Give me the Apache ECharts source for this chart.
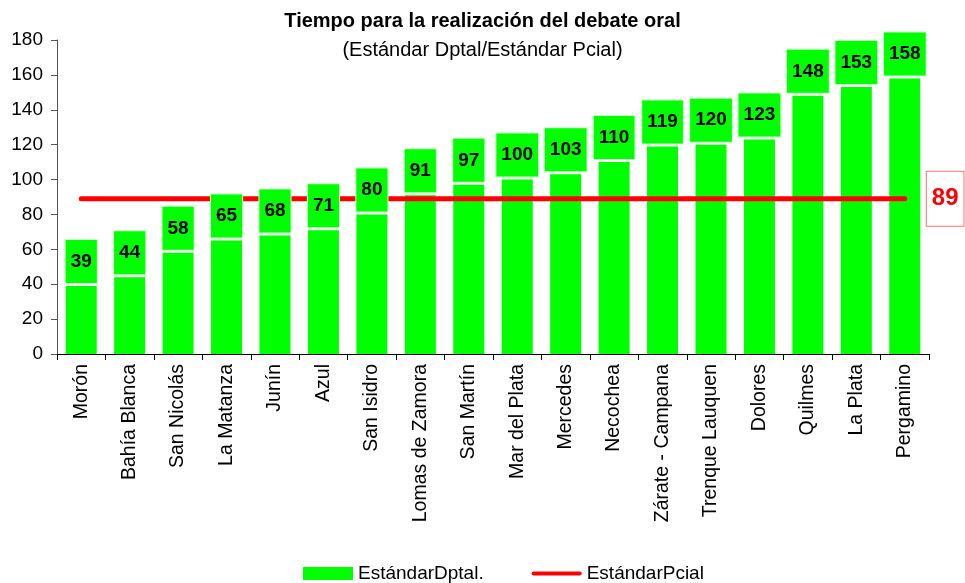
<!DOCTYPE html>
<html>
<head>
<meta charset="utf-8">
<script src="https://cdn.jsdelivr.net/npm/echarts@6/dist/echarts.min.js"></script>
<style>
  html, body { margin: 0; padding: 0; background: #fff; }
  #container { width: 965px; height: 583px; }
</style>
</head>
<body>
<div id="container"></div>
<script>
// data
var categories = ['Morón', 'Bahía Blanca', 'San Nicolás', 'La Matanza', 'Junín', 'Azul',
    'San Isidro', 'Lomas de Zamora', 'San Martín', 'Mar del Plata', 'Mercedes', 'Necochea',
    'Zárate - Campana', 'Trenque Lauquen', 'Dolores', 'Quilmes', 'La Plata', 'Pergamino'];
var dptalValues = [39, 44, 58, 65, 68, 71, 80, 91, 97, 100, 103, 110, 119, 120, 123, 148, 153, 158];
var pcialValue = 89;
var yTicks = [0, 20, 40, 60, 80, 100, 120, 140, 160, 180];

var font = "'Liberation Sans', Arial, sans-serif";
var green = '#00ff00';
var red = '#ff0000';

var pcialValues = categories.map(function () { return pcialValue; });

var dom = document.getElementById('container');
var myChart = echarts.init(dom);

var option = {
    backgroundColor: '#fff',
    animation: false,
    textStyle: { fontFamily: font },
    title: {
        text: 'Tiempo para la realización del debate oral',
        subtext: '(Estándar Dptal/Estándar Pcial)',
        left: 'center',
        top: 6,
        itemGap: 9,
        textStyle: { fontFamily: font, fontSize: 20, fontWeight: 'bold', color: '#000' },
        subtextStyle: { fontFamily: font, fontSize: 20, color: '#000' }
    },
    legend: {
        top: 559,
        left: 298,
        itemWidth: 50,
        itemHeight: 13,
        itemGap: 48,
        textStyle: { fontFamily: font, fontSize: 19, color: '#000' },
        data: [
            { name: 'EstándarDptal.', icon: 'rect' },
            // thin rounded bar so the line key has no dot
            { name: 'EstándarPcial', icon: 'path://M2,0 L48,0 A2,2 0 0 1 48,4 L2,4 A2,2 0 0 1 2,0 Z' }
        ]
    },
    grid: { left: 57, right: 36, top: 40, bottom: 229 },
    xAxis: {
        type: 'category',
        data: categories,
        axisLine: { lineStyle: { color: '#000', width: 1 } },
        axisTick: { show: true, length: 6, lineStyle: { color: '#000' } },
        axisLabel: { rotate: 90, fontSize: 19.5, color: '#000', margin: 10, fontFamily: font }
    },
    yAxis: {
        type: 'value',
        min: yTicks[0],
        max: yTicks[yTicks.length - 1],
        interval: 20,
        splitLine: { show: false },
        axisLine: { show: true, lineStyle: { color: '#555', width: 1 } },
        axisTick: { show: true, length: 6, lineStyle: { color: '#555' } },
        axisLabel: { fontSize: 19, color: '#000', margin: 14, fontFamily: font }
    },
    series: [
        {
            name: 'EstándarDptal.',
            type: 'bar',
            z: 1,
            barWidth: 31,
            itemStyle: { color: green },
            data: dptalValues
        },
        {
            name: 'EstándarPcial',
            type: 'line',
            z: 2,
            symbol: 'none',
            lineStyle: { color: red, width: 5, cap: 'round' },
            itemStyle: { color: red },
            endLabel: {
                show: true,
                distance: 22,
                formatter: function (p) { return String(p.value); },
                color: red,
                fontSize: 24,
                fontWeight: 'bold',
                fontFamily: font,
                backgroundColor: '#fff',
                borderColor: '#ff7070',
                borderWidth: 1,
                padding: [15, 5, 15, 5]
            },
            data: pcialValues
        },
        {
            // transparent twin of the bars, only to carry the value boxes above the red line
            name: 'labels',
            type: 'bar',
            z: 3,
            barWidth: 31,
            barGap: '-100%',
            silent: true,
            itemStyle: { color: 'rgba(0,0,0,0)' },
            label: {
                show: true,
                position: 'top',
                distance: 3,
                fontSize: 19,
                fontWeight: 'bold',
                fontFamily: font,
                color: '#000',
                lineHeight: 19,
                backgroundColor: green,
                borderColor: '#c8ffc8',
                borderWidth: 1,
                padding: [12, 5, 12, 5]
            },
            data: dptalValues
        }
    ]
};

myChart.setOption(option, true);
</script>
</body>
</html>
